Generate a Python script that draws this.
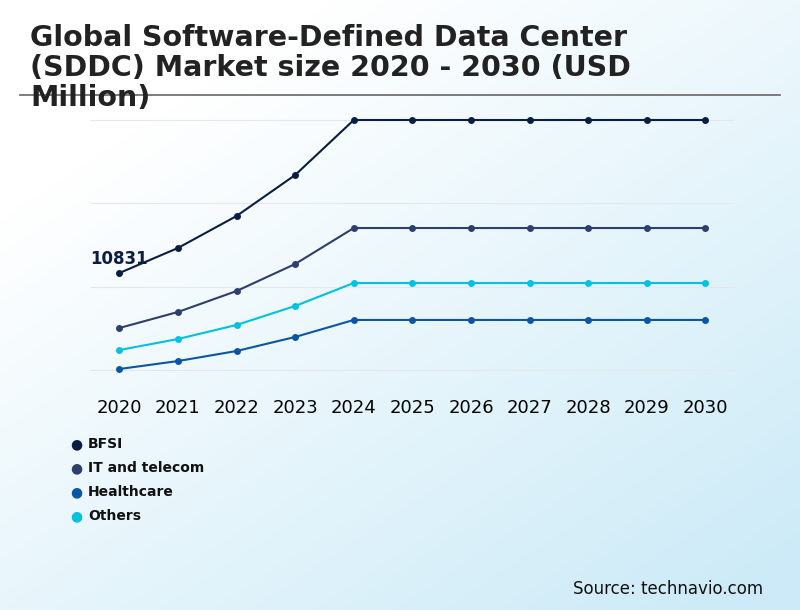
import numpy as np, pandas as pd, seaborn as sns, matplotlib
matplotlib.use("Agg")
import matplotlib.pyplot as plt

years = list(range(2020, 2031))
bfsi = [10831, 13627, 17200, 21780] + [27925]*7
it_telecom = [4690, 6480, 8820, 11840] + [15860]*7
healthcare = [110, 1000, 2120, 3690] + [5590]*7
others = [2230, 3460, 5030, 7150] + [9720]*7
series = ["BFSI", "IT and telecom", "Healthcare", "Others"]
colors = ["#0b1d42", "#2d3e6f", "#0b56a4", "#00c2e0"]

df = pd.DataFrame({"Year": years*4,
                   "Value": bfsi + it_telecom + healthcare + others,
                   "Segment": sum([[s]*len(years) for s in series], [])})

fig = plt.figure(figsize=(8, 6.1), dpi=100)
bg = fig.add_axes([0, 0, 1, 1], zorder=-10)
xx, yy = np.meshgrid(np.linspace(0, 1, 200), np.linspace(0, 1, 200))
t = np.clip((xx*0.6 + yy*0.7) - 0.25, 0, 1)
c0 = np.array([1, 1, 1]); c1 = np.array([0.80, 0.92, 0.97])
img = c0[None, None, :]*(1-t[..., None]) + c1[None, None, :]*t[..., None]
bg.imshow(img, extent=[0, 1, 0, 1], origin="upper", aspect="auto")
bg.axis("off")

ax = fig.add_axes([0.1125, 1-380/610, 0.806, 270/610])
ax.patch.set_alpha(0)
sns.lineplot(data=df, x="Year", y="Value", hue="Segment", palette=colors,
             hue_order=series, marker="o", markersize=5, markeredgewidth=0,
             linewidth=1.5, ax=ax, legend=False)
ax.set_xlim(2019.5, 2030.5)
ax.set_ylim(-1117, 29042)
ax.set_yticks([0, 9310, 18620, 27930])
ax.set_yticklabels([])
ax.grid(axis="y", color="#e4e8ec", linewidth=0.8)
ax.set_xticks(years)
ax.set_xticklabels([str(y) for y in years], fontsize=13)
ax.tick_params(length=0, pad=14)
for s in ax.spines.values():
    s.set_visible(False)
ax.set_xlabel(""); ax.set_ylabel("")
ax.text(2020.48, bfsi[0]+600, "10831", ha="right", va="bottom", fontsize=12,
        fontweight="bold", color="#0b1d42")

fig.text(30/800, 1-24/610, "Global Software-Defined Data Center\n(SDDC) Market size 2020 - 2030 (USD\nMillion)",
         fontsize=20.5, fontweight="bold", color="#222222", va="top", ha="left", linespacing=1.08)
fig.add_artist(plt.Line2D([20/800, 780/800], [1-95/610]*2, color="#666666", linewidth=1.2))

for i, (s, c) in enumerate(zip(series, colors)):
    y = 1-(444+24*i)/610
    fig.text(76/800, y, "●", color=c, fontsize=10, va="center", ha="center")
    fig.text(88/800, y, s, color="#111111", fontsize=10, fontweight="bold", va="center")

fig.text(763/800, 1-589/610, "Source: technavio.com", fontsize=12, ha="right", va="center", color="#111111")
fig.savefig("out.png", dpi=100)
